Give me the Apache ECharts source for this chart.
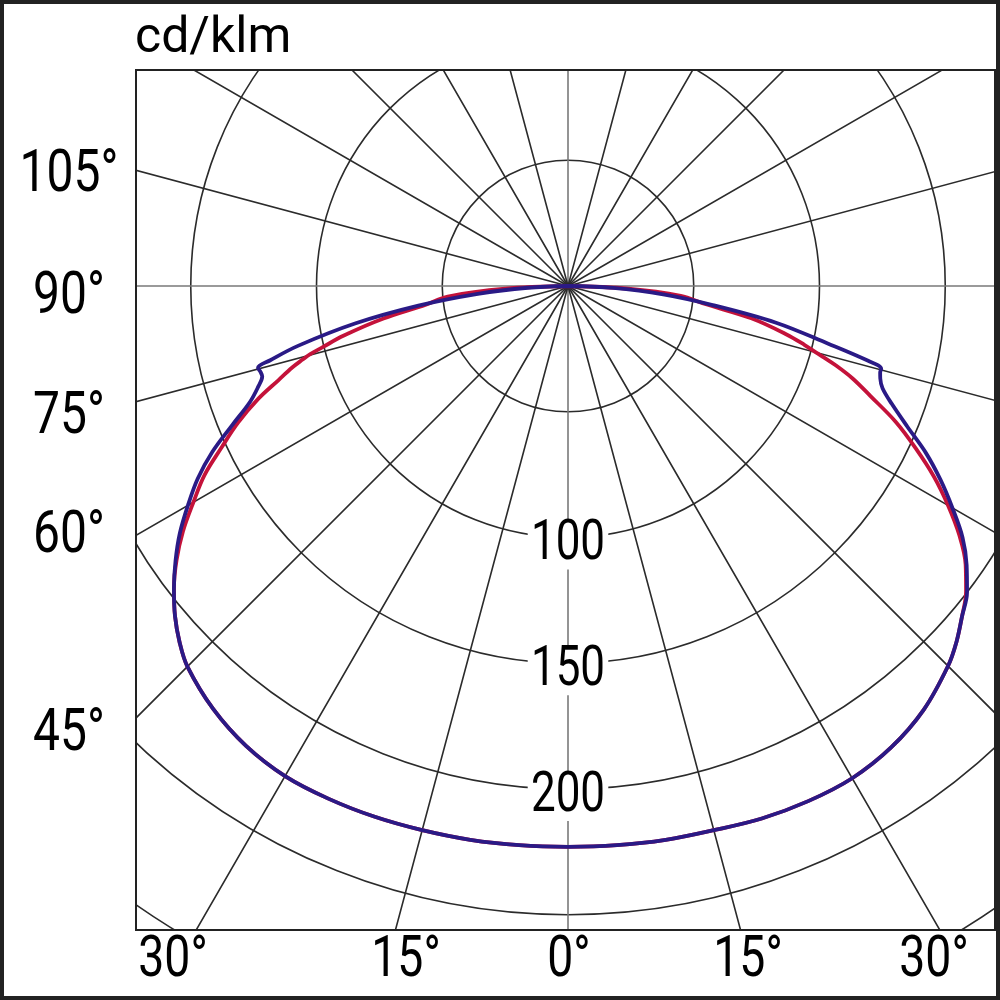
<!DOCTYPE html>
<html>
<head>
<meta charset="utf-8">
<script src="https://cdn.jsdelivr.net/npm/echarts@6/dist/echarts.min.js"></script>
<style>
  html, body { margin: 0; padding: 0; background: #fff; }
  #chart { width: 1000px; height: 1000px; }
</style>
</head>
<body>
<div id="chart"></div>
<script>
// ---- data (cd/klm vs angle from nadir, degrees) ----
const gamma     = [0, 5, 10, 15, 20, 25, 30, 35, 40, 45, 47.5, 50, 52.5, 55, 57.5, 60, 62.5, 65, 67.5, 70, 72, 73.5, 74.5, 75.2, 76, 77.5, 80, 82.5, 85, 87.5, 90];
const redLeft   = [223, 223.2, 223.6, 224, 224.6, 225, 225, 223.2, 219.5, 214, 209.5, 204, 197.5, 190, 181.5, 172, 163, 152, 142, 131, 121, 114.5, 109.5, 106, 100.5, 91.5, 74.5, 57, 48, 25, 0];
const redRight  = [223, 223.2, 223.6, 224, 225.3, 226, 226, 224, 220, 213.7, 209.5, 204.5, 199.5, 193, 184.5, 174.5, 164, 152.5, 141, 128, 119, 111, 105, 101, 97, 89, 74, 55, 45, 24, 0];
const blueLeft  = [223, 223.2, 223.6, 224, 224.6, 225, 225, 223.2, 219.5, 214, 209.5, 204, 197.5, 190.5, 183, 174.5, 166, 156, 144.5, 134.5, 129.5, 126.8, 127, 127.5, 122, 110, 86, 60, 36, 16, 0];
const blueRight = [223, 223.2, 223.6, 224, 225.3, 226, 226, 224, 220, 213.7, 209.5, 204.5, 200, 193.5, 186, 176.5, 167, 157, 146, 137, 131.5, 129.5, 128.8, 128.8, 123, 106, 84, 58, 38, 18, 0];

const ringLabels   = [100, 150, 200];
const leftLabels   = ['105°', '90°', '75°', '60°', '45°'];
const bottomLabels = ['30°', '15°', '0°', '15°', '30°'];

// ---- layout constants ----
const CX = 568, CY = 286, PX_PER_UNIT = 2.515, RMAX = 350;
const PLOT = { x1: 136, y1: 70, x2: 995, y2: 930 };
const leftLabelY   = [176, 298, 418, 537, 735];
const bottomLabelX = [173, 406, 569, 748, 934];
const NUM_FONT = 'Roboto, "Noto Sans", sans-serif';
const CONDENSE = 0.8;

function curve(left, right) {
  const pts = [];
  for (let i = gamma.length - 1; i >= 0; i--) pts.push([left[i], gamma[i]]);
  for (let i = 1; i < gamma.length; i++) pts.push([right[i], 360 - gamma[i]]);
  return pts;
}

const chart = echarts.init(document.getElementById('chart'), null, { renderer: 'canvas' });

chart.setOption({
  animation: false,
  backgroundColor: '#fff',
  polar: { center: [CX, CY], radius: RMAX * PX_PER_UNIT },
  angleAxis: {
    type: 'value', min: 0, max: 360, interval: 15, startAngle: 270, clockwise: true,
    axisLine: { show: false }, axisTick: { show: false }, axisLabel: { show: false },
    splitLine: { show: true, lineStyle: { color: ['#7a7a7a', '#2b2b2b', '#2b2b2b', '#2b2b2b', '#2b2b2b', '#2b2b2b'], width: 1.6 } }
  },
  radiusAxis: {
    type: 'value', min: 0, max: RMAX, interval: 50,
    axisLine: { show: false }, axisTick: { show: false }, axisLabel: { show: false },
    splitLine: { show: true, lineStyle: { color: '#2b2b2b', width: 1.6 } }
  },
  series: [
    { type: 'line', coordinateSystem: 'polar', data: curve(redLeft, redRight), showSymbol: false, smooth: 0.35,
      lineStyle: { color: '#C4123A', width: 3.8 }, z: 3, clip: false },
    { type: 'line', coordinateSystem: 'polar', data: curve(blueLeft, blueRight), showSymbol: false, smooth: 0.35,
      lineStyle: { color: '#2A1A86', width: 3.8 }, z: 4, clip: false }
  ]
});

const graphics = [
  { type: 'rect', z: 100, shape: { x: 0, y: 0, width: 1000, height: PLOT.y1 }, style: { fill: '#fff' } },
  { type: 'rect', z: 100, shape: { x: 0, y: 0, width: PLOT.x1, height: 1000 }, style: { fill: '#fff' } },
  { type: 'rect', z: 100, shape: { x: 0, y: PLOT.y2, width: 1000, height: 1000 - PLOT.y2 }, style: { fill: '#fff' } },
  { type: 'rect', z: 100, shape: { x: PLOT.x2, y: 0, width: 1000 - PLOT.x2, height: 1000 }, style: { fill: '#fff' } },
  { type: 'rect', z: 101, shape: { x: PLOT.x1, y: PLOT.y1, width: PLOT.x2 - PLOT.x1, height: PLOT.y2 - PLOT.y1 },
    style: { fill: 'none', stroke: '#222', lineWidth: 2 } },
  { type: 'rect', z: 101, shape: { x: 2, y: 2, width: 996, height: 996 },
    style: { fill: 'none', stroke: '#222', lineWidth: 4 } },
  { type: 'text', z: 102, x: 135, y: 39,
    style: { text: 'cd/klm', font: '50px Roboto, sans-serif', fill: '#000', align: 'left', verticalAlign: 'middle' } }
];
leftLabels.forEach((t, i) => graphics.push({
  type: 'text', z: 102, x: 69, y: leftLabelY[i], scaleX: CONDENSE,
  style: { text: t, font: '60px ' + NUM_FONT, fill: '#000', align: 'center', verticalAlign: 'middle' }
}));
bottomLabels.forEach((t, i) => graphics.push({
  type: 'text', z: 102, x: bottomLabelX[i], y: 961, scaleX: CONDENSE,
  style: { text: t, font: '58px ' + NUM_FONT, fill: '#000', align: 'center', verticalAlign: 'middle' }
}));
// ring value labels, placed through the polar coordinate system on the nadir line
ringLabels.forEach(v => {
  const p = chart.convertToPixel({ polarIndex: 0 }, [v, 0]);
  graphics.push({
    type: 'text', z: 50, x: p[0], y: p[1] + 8, scaleX: CONDENSE,
    style: { text: String(v), font: '55px ' + NUM_FONT, fill: '#000', align: 'center', verticalAlign: 'middle',
      backgroundColor: '#fff', padding: [0, 4], lineHeight: 48 }
  });
});

chart.setOption({ graphic: graphics });
</script>
</body>
</html>
